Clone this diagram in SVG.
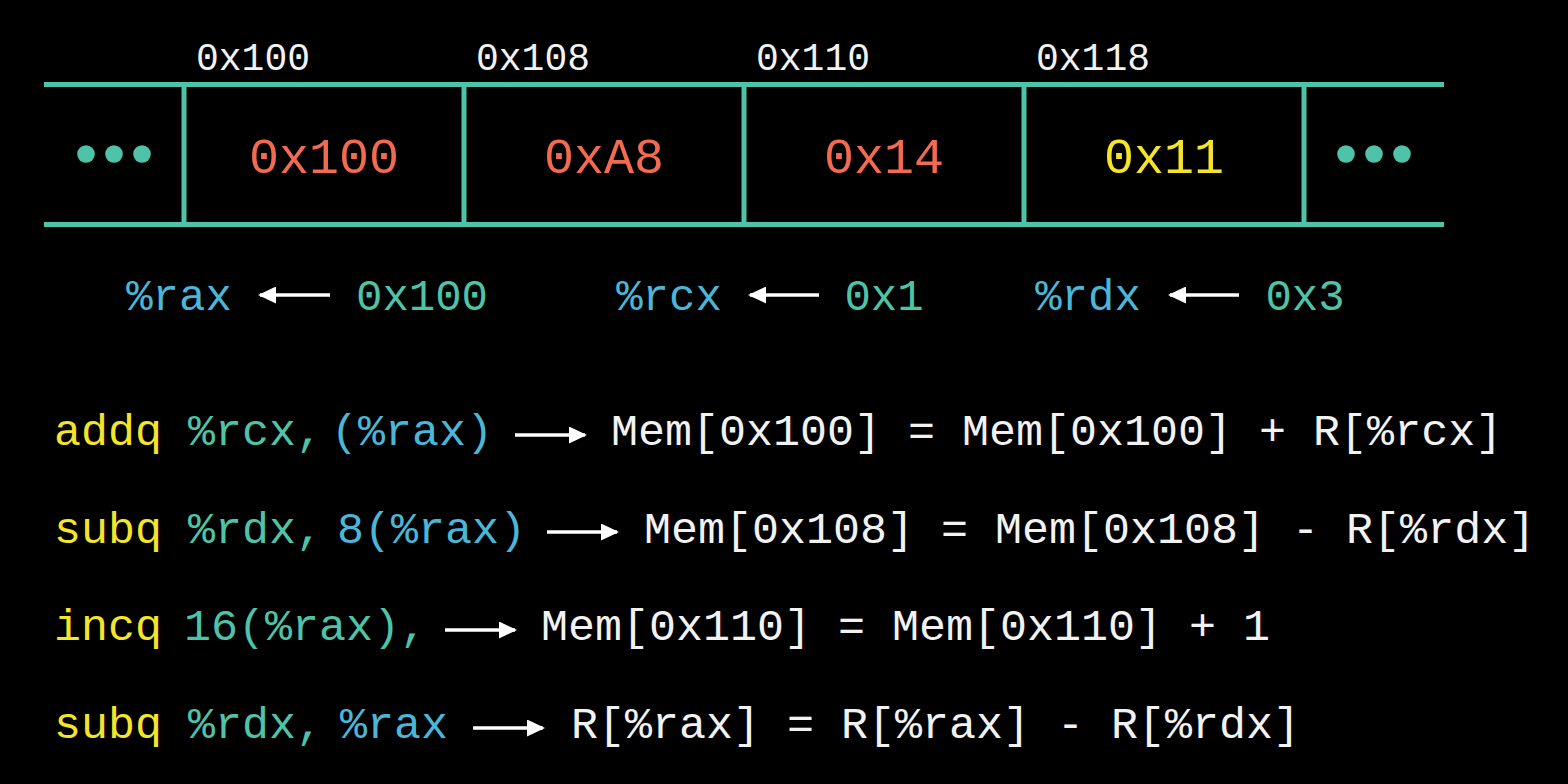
<svg xmlns="http://www.w3.org/2000/svg" width="1568" height="784" viewBox="0 0 1568 784">
<defs>
<style>
.t{font-family:"Liberation Mono","DejaVu Sans Mono",monospace;}
.addr{font-size:38px;fill:#f2f2f2;text-anchor:middle;}
.val{font-size:50px;text-anchor:middle;}
.reg{font-size:44px;text-anchor:middle;}
.ins{font-size:45px;}
.mem{stroke:#4fc3a7;stroke-width:5;fill:none;}
.dot{fill:#4fc3a7;}
.arr{stroke:#ffffff;stroke-width:3.5;fill:none;marker-end:url(#head);}
.red{fill:#f26a50;}
.yel{fill:#f4e42a;}
.teal{fill:#4fc3a7;}
.blue{fill:#4ab6d8;}
.wht{fill:#f2f2f2;}
</style>
<marker id="head" markerUnits="userSpaceOnUse" markerWidth="18" markerHeight="17" viewBox="0 0 18 17" refX="16" refY="8.5" orient="auto">
<path d="M0,0 L18,8.5 L0,17 Z" fill="#ffffff"/>
</marker>
</defs>
<rect x="0" y="0" width="1568" height="784" fill="#000000"/>

<g id="memory-frame">
<line class="mem" x1="44" y1="84.5" x2="1444" y2="84.5"/>
<line class="mem" x1="44" y1="224.5" x2="1444" y2="224.5"/>
</g>
<g id="cell-left-dots">
<circle class="dot" cx="86" cy="154" r="8.8"/>
<circle class="dot" cx="114" cy="154" r="8.8"/>
<circle class="dot" cx="142" cy="154" r="8.8"/>
</g>
<g id="cell-0x100">
<line class="mem" x1="184" y1="84.5" x2="184" y2="224.5"/>
<text class="t addr" x="253" y="70">0x100</text>
<text class="t val red" x="324" y="173">0x100</text>
</g>
<g id="cell-0x108">
<line class="mem" x1="464" y1="84.5" x2="464" y2="224.5"/>
<text class="t addr" x="533" y="70">0x108</text>
<text class="t val red" x="604" y="173">0xA8</text>
</g>
<g id="cell-0x110">
<line class="mem" x1="744" y1="84.5" x2="744" y2="224.5"/>
<text class="t addr" x="813" y="70">0x110</text>
<text class="t val red" x="884" y="173">0x14</text>
</g>
<g id="cell-0x118">
<line class="mem" x1="1024" y1="84.5" x2="1024" y2="224.5"/>
<text class="t addr" x="1093" y="70">0x118</text>
<text class="t val yel" x="1164" y="173">0x11</text>
</g>
<g id="cell-right-dots">
<line class="mem" x1="1304" y1="84.5" x2="1304" y2="224.5"/>
<circle class="dot" cx="1346" cy="154" r="8.8"/>
<circle class="dot" cx="1374" cy="154" r="8.8"/>
<circle class="dot" cx="1402" cy="154" r="8.8"/>
</g>

<g id="reg-rax">
<text class="t reg blue" x="179" y="310">%rax</text>
<text class="t reg teal" x="422" y="310">0x100</text>
</g>
<g id="reg-rcx">
<text class="t reg blue" x="669" y="310">%rcx</text>
<text class="t reg teal" x="884" y="310">0x1</text>
</g>
<g id="reg-rdx">
<text class="t reg blue" x="1088" y="310">%rdx</text>
<text class="t reg teal" x="1305" y="310">0x3</text>
</g>

<g id="instr-1">
<text class="t ins yel" x="54" y="445">addq</text>
<text class="t ins teal" x="188" y="445">%rcx,</text>
<text class="t ins blue" x="331" y="445">(%rax)</text>
<text class="t ins wht" x="611" y="445">Mem[0x100] = Mem[0x100] + R[%rcx]</text>
</g>
<g id="instr-2">
<text class="t ins yel" x="54" y="543">subq</text>
<text class="t ins teal" x="188" y="543">%rdx,</text>
<text class="t ins blue" x="337" y="543">8(%rax)</text>
<text class="t ins wht" x="644" y="543">Mem[0x108] = Mem[0x108] - R[%rdx]</text>
</g>
<g id="instr-3">
<text class="t ins yel" x="54" y="640">incq</text>
<text class="t ins teal" x="184" y="640">16(%rax),</text>
<text class="t ins wht" x="541" y="640">Mem[0x110] = Mem[0x110] + 1</text>
</g>
<g id="instr-4">
<text class="t ins yel" x="54" y="738">subq</text>
<text class="t ins teal" x="188" y="738">%rdx,</text>
<text class="t ins blue" x="340" y="738">%rax</text>
<text class="t ins wht" x="571" y="738">R[%rax] = R[%rax] - R[%rdx]</text>
</g>

<g id="connectors">
<line class="arr" x1="330" y1="295" x2="260" y2="295"/>
<line class="arr" x1="819" y1="295" x2="750" y2="295"/>
<line class="arr" x1="1239" y1="295" x2="1170" y2="295"/>
<line class="arr" x1="515" y1="435" x2="585" y2="435"/>
<line class="arr" x1="547" y1="532" x2="617" y2="532"/>
<line class="arr" x1="445" y1="630" x2="515" y2="630"/>
<line class="arr" x1="473" y1="728" x2="543" y2="728"/>
</g>
</svg>
